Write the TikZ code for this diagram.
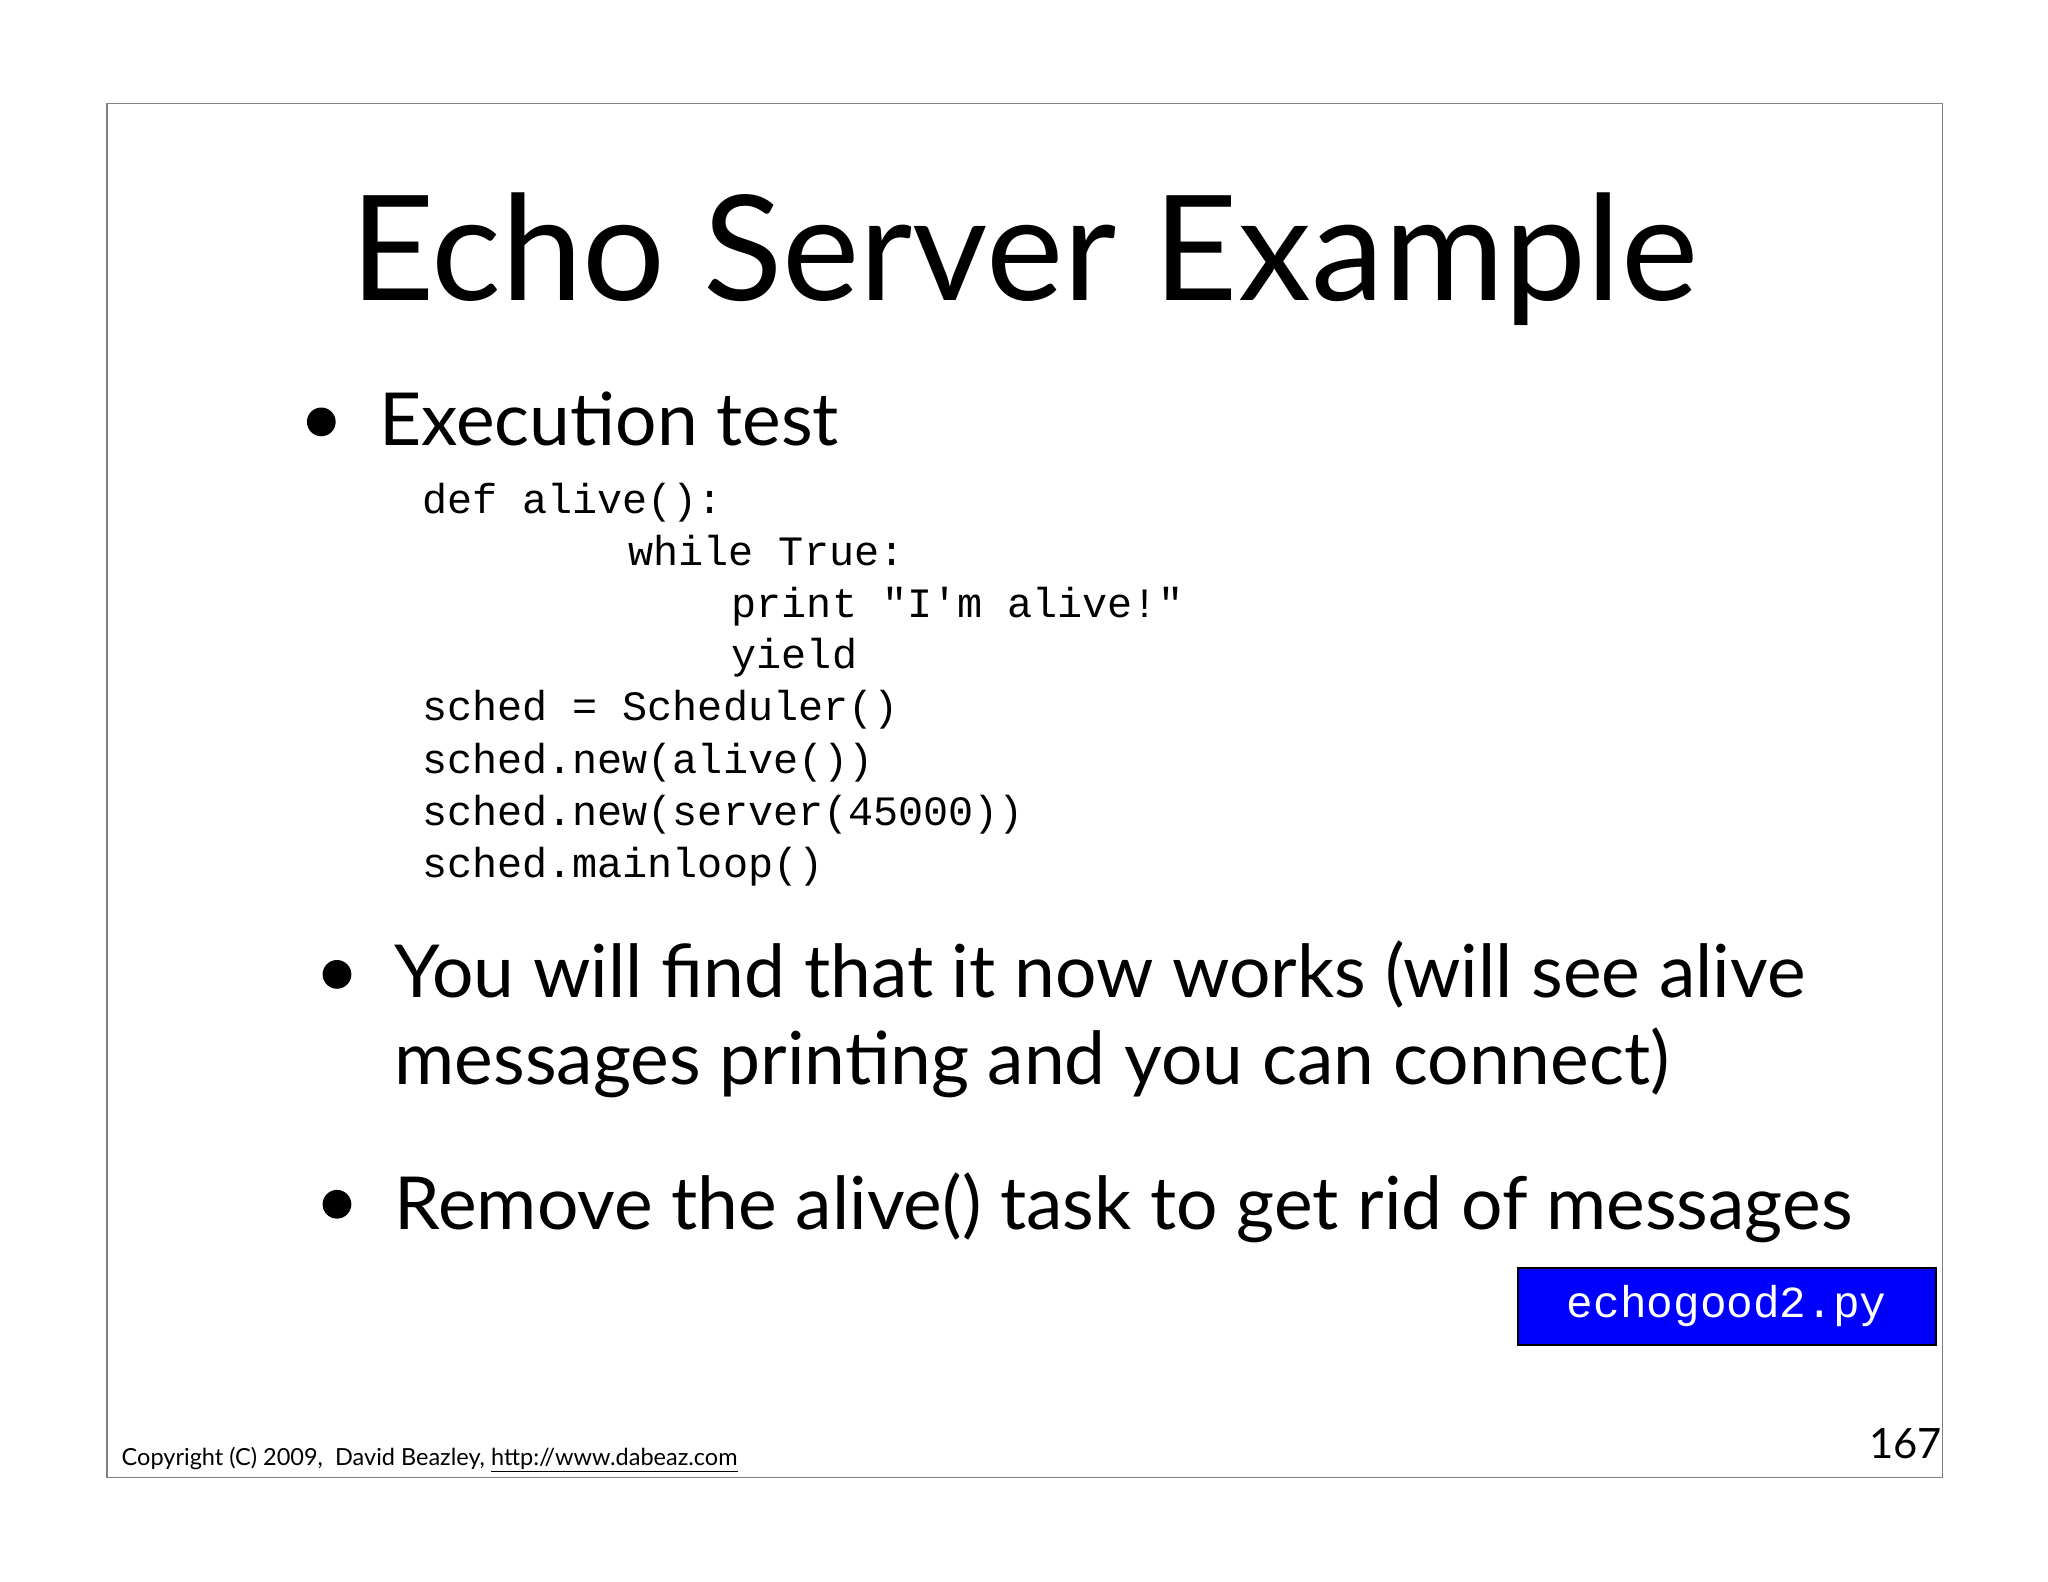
\documentclass[tikz,border=0pt]{standalone}
\usepackage{fontspec}
\setmainfont{Lato}
\setmonofont{Liberation Mono}
\begin{document}
\begin{tikzpicture}[x=1pt,y=-1pt,
  code/.style={anchor=base west,inner sep=0pt,font=\fontsize{32}{32}\selectfont\ttfamily},
  big/.style={anchor=base west,inner sep=0pt,font=\fontsize{56}{68}\selectfont},
  dot/.style={circle,fill=black,inner sep=0pt,minimum size=22pt}]
\useasboundingbox (0,0) rectangle (1568,1211);
\draw[gray,line width=1pt] (82,79) rectangle (1487,1131);
\node[anchor=base,inner sep=0pt,font=\fontsize{112}{112}\selectfont] (title) at (784,230) {Echo Server Example};
\node[dot] (b1) at (246,323) {};
\node[big] (t1) at (290,341) {Execution test};
\node[code] (c1) at (323,393) {def alive():};
\node[code] (c2) at (481,433) {while True:};
\node[code] (c3) at (560,473) {print "I'm alive!"};
\node[code] (c4) at (560,512) {yield};
\node[code] (c5) at (323,552) {sched = Scheduler()};
\node[code] (c6) at (323,592) {sched.new(alive())};
\node[code] (c7) at (323,632) {sched.new(server(45000))};
\node[code] (c8) at (323,672) {sched.mainloop()};
\node[dot] (b2) at (258,746) {};
\node[big] (t2) at (302,764) {You will find that it now works (will see alive};
\node[big] (t3) at (302,830) {messages printing and you can connect)};
\node[dot] (b3) at (258,922) {};
\node[big] (t4) at (302,941) {Remove the alive() task to get rid of messages};
\node[draw=black,line width=1.5pt,fill=blue,text=white,minimum width=320pt,minimum height=59pt,inner sep=0pt,font=\fontsize{34}{34}\selectfont\ttfamily] (file) at (1322,1000) {echogood2.py};
\node[anchor=base west,inner sep=0pt,font=\fontsize{18}{18}\selectfont] (copy) at (93,1122) {Copyright (C) 2009,\ \ David Beazley, \underline{http://www.dabeaz.com}};
\node[anchor=base east,inner sep=0pt,font=\fontsize{32}{32}\selectfont] (pg) at (1487,1117) {167};
\end{tikzpicture}
\end{document}
